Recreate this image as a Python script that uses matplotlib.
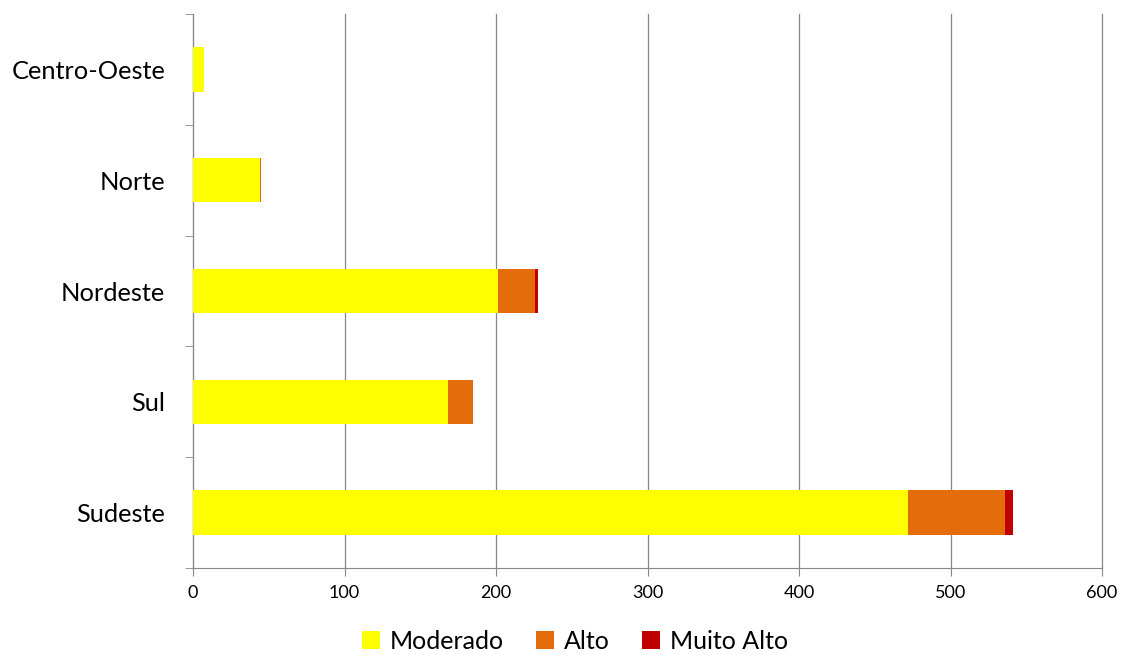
import matplotlib.pyplot as plt
import numpy as np

plt.rcParams['font.family'] = ['Lato', 'DejaVu Sans']

regioes = ['Centro-Oeste', 'Norte', 'Nordeste', 'Sul', 'Sudeste']
moderado = [7, 44, 201, 168, 472]
alto = [0, 1, 25, 17, 64]
muito_alto = [0, 0, 2, 0, 5]

cores = ['#FFFF00', '#E46C0A', '#C00000']

fig = plt.figure(figsize=(11.23, 6.55), dpi=100)
ax = fig.add_axes([0.1719, 0.1328, 0.8094, 0.8458])

y = np.arange(len(regioes))
m = np.array(moderado)
a = np.array(alto)
ma = np.array(muito_alto)
ax.barh(y, m, height=0.4, color=cores[0], label='Moderado', zorder=3)
ax.barh(y, a, left=m, height=0.4, color=cores[1], label='Alto', zorder=3)
ax.barh(y, ma, left=m + a, height=0.4, color=cores[2], label='Muito Alto', zorder=3)

ax.set_xlim(0, 600)
ax.set_ylim(len(regioes) - 0.5, -0.5)
ax.set_xticks(range(0, 601, 100))
ax.set_yticks(y)
ax.set_yticklabels(regioes, fontsize=18.3)
ax.set_yticks(np.arange(-0.5, len(regioes), 1), minor=True)
ax.tick_params(axis='y', which='major', length=0, pad=20)
ax.tick_params(axis='y', which='minor', length=6, color='#878787', direction='out')
ax.tick_params(axis='x', length=6, color='#878787', direction='out', labelsize=13, pad=6)

ax.grid(axis='x', color='#878787', linewidth=0.9, zorder=0)
for gl in ax.get_xgridlines():
    gl.set_clip_on(False)
for s in ['top', 'right']:
    ax.spines[s].set_visible(False)
for s in ['left', 'bottom']:
    ax.spines[s].set_color('#878787')

fig.legend(loc='lower center', bbox_to_anchor=(0.512, -0.031), ncol=3, frameon=False,
           fontsize=18, handlelength=0.7, handleheight=0.7, handletextpad=0.4,
           columnspacing=1.3)

fig.savefig('out.png', dpi=100)
